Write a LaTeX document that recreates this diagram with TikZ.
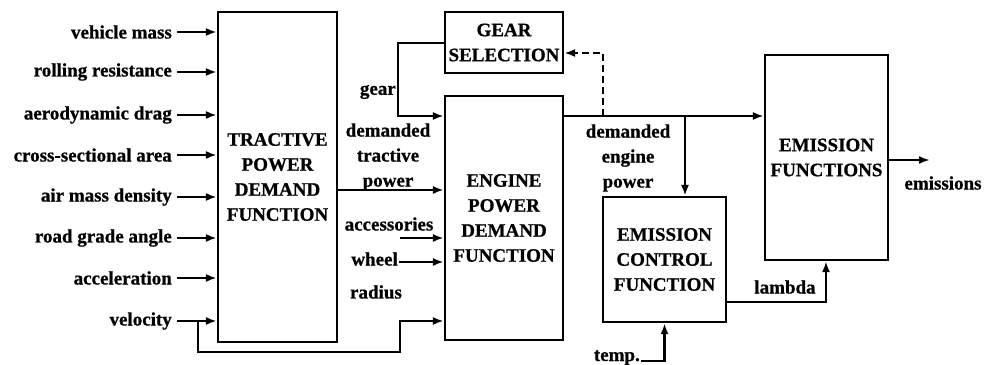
\documentclass[tikz,border=0pt]{standalone}
\usepackage{fontspec}
\setmainfont{Liberation Serif}[BoldFeatures={FakeBold=0.8}]
\usetikzlibrary{arrows.meta}
\begin{document}
\begin{tikzpicture}[x=1pt,y=-1pt,
  font=\bfseries\fontsize{19}{25}\selectfont,
  box/.style={draw,line width=2.2pt,align=center,inner sep=0pt},
  lbl/.style={inner sep=1pt,align=center},
  wire/.style={line width=2.2pt},
  arr/.style={wire,-{Latex[length=11pt,width=8pt]}}]
\useasboundingbox (0,0) rectangle (987,364);
% boxes
\node[box,minimum width=119pt,minimum height=330pt] (tpd) at (277.5,177) {TRACTIVE\\POWER\\DEMAND\\FUNCTION};
\node[box,minimum width=118pt,minimum height=61pt] (gear) at (504,42.5) {GEAR\\SELECTION};
\node[box,minimum width=118pt,minimum height=244pt] (eng) at (504,218) {ENGINE\\POWER\\DEMAND\\FUNCTION};
\node[box,minimum width=123pt,minimum height=125pt] (ecf) at (664.5,259.5) {EMISSION\\CONTROL\\FUNCTION};
\node[box,minimum width=123pt,minimum height=205pt] (ef) at (826.5,157.5) {EMISSION\\FUNCTIONS};
% input labels
\node[lbl,anchor=east] (l1) at (173,32) {vehicle mass};
\node[lbl,anchor=east] (l2) at (173,72) {rolling resistance};
\node[lbl,anchor=east] (l3) at (173,115) {aerodynamic drag};
\node[lbl,anchor=east] (l4) at (173,155) {cross-sectional area};
\node[lbl,anchor=east] (l5) at (173,197) {air mass density};
\node[lbl,anchor=east] (l6) at (173,238) {road grade angle};
\node[lbl,anchor=east] (l7) at (173,278) {acceleration};
\node[lbl,anchor=east] (l8) at (173,321) {velocity};
\foreach \i in {1,...,8} {\draw[arr] ([xshift=4pt]l\i.east) -- (l\i.east -| tpd.west);}
% velocity feedback
\coordinate (vb) at (198,321);
\coordinate (v2) at (400,352);
\draw[arr] (vb) |- (v2) |- (eng.west |- vb);
% other labels
\node[lbl,anchor=east] (gl) at (397,92) {gear};
\node[lbl] (dtp) at (388,157) {demanded\\tractive\\power};
\node[lbl] (acc) at (389,224) {accessories};
\node[lbl,anchor=east] (wh) at (399,259) {wheel};
\node[lbl] (rad) at (376,292) {radius};
\node[lbl] (dep) at (628,158) {demanded\\engine\\power};
\node[lbl] (emis) at (943,183) {emissions};
\node[lbl] (lam) at (785,287) {lambda};
\node[lbl,anchor=base east] (temp) at (641,361) {temp.};
% connectors
\coordinate (gy) at (398,43);
\coordinate (gd) at (398,116);
\draw[arr] (gear.west |- gy) -- (gy) -- (gd) -- (eng.west |- gd);
\coordinate (tpy) at (340,190);
\draw[arr] (tpd.east |- tpy) -- (eng.west |- tpy);
\coordinate (ac) at (400,238);
\draw[arr] (ac) -- (eng.west |- ac);
\coordinate (wr) at (399,262);
\draw[arr] (wr) -- (eng.west |- wr);
\coordinate (eo) at (600,116);
\draw[arr] (eng.east |- eo) -- (ef.west |- eo);
\coordinate (dsh) at (603,116);
\coordinate (dsy) at (603,53);
\draw[arr,dash pattern=on 7pt off 4pt] (dsh) -- (dsy) -- (gear.east |- dsy);
\coordinate (db) at (685,116);
\draw[arr] (db) -- (db |- ecf.north);
\coordinate (lc) at (826,302);
\draw[arr] (ecf.east |- lc) -- (lc) -- (lc |- ef.south);
\draw[arr] (temp.base east) -| (ecf.south);
\coordinate (eout) at (888,160);
\draw[arr] (ef.east |- eout) -- (930,160);
\end{tikzpicture}
\end{document}
